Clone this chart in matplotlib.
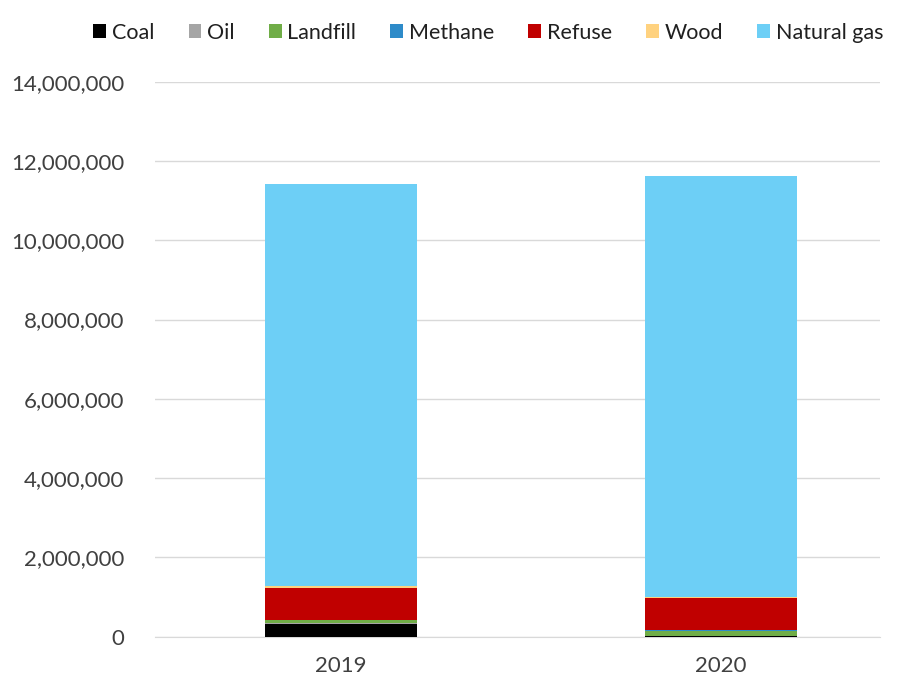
import matplotlib.pyplot as plt
import numpy as np
from matplotlib.ticker import FuncFormatter

years = ['2019', '2020']
sources = ['Coal', 'Oil', 'Landfill', 'Methane', 'Refuse', 'Wood', 'Natural gas']
colors = ['#000000', '#a5a5a5', '#70ad47', '#2e8bc9', '#c00000', '#ffd27f', '#6dcff6']

coal = [330000, 20000]
oil = [10000, 10000]
landfill = [80000, 120000]
methane = [10000, 20000]
refuse = [800000, 800000]
wood = [40000, 40000]
natural_gas = [10150000, 10600000]

series = [coal, oil, landfill, methane, refuse, wood, natural_gas]

plt.rcParams['font.family'] = ['Lato', 'DejaVu Sans']

fig = plt.figure(figsize=(8.99, 6.81), dpi=100)
ax = fig.add_axes([0.172, 0.065, 0.807, 0.815])

x = np.arange(len(years))
bottom = np.zeros(len(years))
for name, vals, c in zip(sources, series, colors):
    ax.bar(x, vals, bottom=bottom, width=0.4, color=c, label=name, zorder=3)
    bottom += np.array(vals)

ax.set_ylim(0, 14000000)
ax.set_yticks(np.arange(0, 14000001, 2000000))
ax.yaxis.set_major_formatter(FuncFormatter(lambda v, p: f'{int(v):,}'))
ax.set_xticks(x)
ax.set_xticklabels(years)
ax.set_xlim(-0.49, 1.42)

ax.grid(axis='y', color='#d9d9d9', linewidth=1, zorder=0)
for s in ['top', 'right', 'left']:
    ax.spines[s].set_visible(False)
ax.spines['bottom'].set_color('#d9d9d9')
ax.tick_params(axis='y', length=0, labelsize=16, colors='#404040', pad=22)
ax.tick_params(axis='x', length=0, labelsize=16, colors='#404040', pad=14)

ax.legend(loc='lower center', bbox_to_anchor=(0.46, 1.055), ncol=7, frameon=False,
          fontsize=15.5, handlelength=0.6, handleheight=0.6, handletextpad=0.25,
          columnspacing=1.6, labelcolor='#202020', borderaxespad=0)

fig.savefig('out.png', dpi=100)
